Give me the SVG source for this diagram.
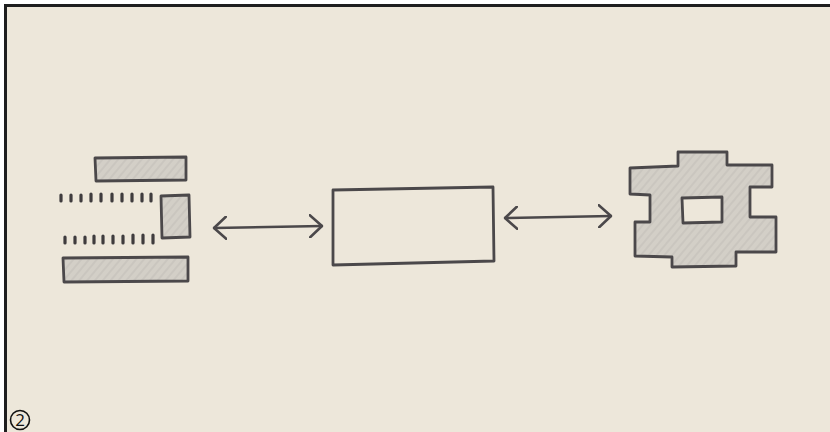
<svg xmlns="http://www.w3.org/2000/svg" width="830" height="432" viewBox="0 0 830 432">
  <defs>
    <pattern id="hatch" patternUnits="userSpaceOnUse" width="6" height="6" patternTransform="rotate(-50)">
      <rect width="6" height="6" fill="#d3cfc7"/>
      <line x1="0" y1="1" x2="6" y2="1" stroke="#c8c4bd" stroke-width="1.5"/>
    </pattern>
    <marker id="head" viewBox="0 0 14 24" refX="13" refY="12" markerWidth="14" markerHeight="24" markerUnits="userSpaceOnUse" orient="auto-start-reverse">
      <path d="M1,1 L13,12 L1,23" fill="none" stroke="#4b484a" stroke-width="2.6" stroke-linecap="round" stroke-linejoin="round"/>
    </marker>
  </defs>
  <style>
    .ink { fill: none; stroke: #4b484a; stroke-width: 2.8; stroke-linejoin: round; stroke-linecap: round; }
    .shade { fill: url(#hatch); stroke: #4b484a; stroke-width: 2.8; stroke-linejoin: round; }
    .tick { stroke: #3f3c3e; stroke-width: 3.2; stroke-linecap: round; }
    .wire { fill: none; stroke: #4b484a; stroke-width: 2.6; stroke-linecap: round; marker-start: url(#head); marker-end: url(#head); }
    .num { font-family: "Open Sans", "Liberation Sans", sans-serif; font-size: 17px; fill: #111; }
  </style>

  <rect x="0" y="0" width="830" height="432" fill="#ffffff"/>
  <rect x="5" y="4" width="825" height="428" fill="#ede7da"/>
  <line x1="4" y1="5.5" x2="830" y2="5.5" stroke="#1e1e1e" stroke-width="3"/>
  <line x1="5.5" y1="4" x2="5.5" y2="432" stroke="#1e1e1e" stroke-width="3"/>

  <g id="node-source">
    <path class="shade" d="M95,158 L186,157 L186,180 L96,181 Z"/>
    <path class="shade" d="M161,196 L189,195 L190,237 L162,238 Z"/>
    <path class="shade" d="M63,258 L188,257 L188,281 L64,282 Z"/>
    <g class="tick">
      <line x1="61" y1="195" x2="61" y2="201"/>
      <line x1="71" y1="195" x2="71" y2="201"/>
      <line x1="81" y1="195" x2="81" y2="201"/>
      <line x1="91" y1="194" x2="91" y2="201"/>
      <line x1="101" y1="194" x2="101" y2="201"/>
      <line x1="112" y1="194" x2="112" y2="201"/>
      <line x1="122" y1="194" x2="122" y2="201"/>
      <line x1="132" y1="194" x2="132" y2="201"/>
      <line x1="142" y1="194" x2="142" y2="201"/>
      <line x1="151" y1="194" x2="151" y2="201"/>
      <line x1="65" y1="237" x2="65" y2="243"/>
      <line x1="75" y1="237" x2="75" y2="243"/>
      <line x1="85" y1="237" x2="85" y2="243"/>
      <line x1="94" y1="236" x2="94" y2="243"/>
      <line x1="103" y1="236" x2="103" y2="243"/>
      <line x1="113" y1="236" x2="113" y2="243"/>
      <line x1="123" y1="236" x2="123" y2="243"/>
      <line x1="133" y1="235" x2="133" y2="243"/>
      <line x1="143" y1="235" x2="143" y2="243"/>
      <line x1="153" y1="235" x2="153" y2="243"/>
    </g>
  </g>

  <g id="node-box">
    <path class="ink" d="M333,190 L493,187 L494,261 L333,265 Z"/>
  </g>

  <g id="node-gear">
    <path class="shade" fill-rule="evenodd" d="M678,152 L727,152 L727,165 L772,165 L772,187 L750,187 L750,217 L776,217 L776,252 L736,252 L736,266 L672,267 L672,257 L635,256 L635,222 L650,222 L650,195 L630,194 L630,168 L678,166 Z M682,198 L722,197 L722,222 L683,223 Z"/>
  </g>

  <g id="connectors">
    <line class="wire" x1="214" y1="228" x2="322" y2="226"/>
    <line class="wire" x1="505" y1="218" x2="611" y2="216"/>
  </g>

  <g id="label-2">
    <circle cx="20" cy="420" r="9.5" fill="none" stroke="#111" stroke-width="1.6"/>
    <text class="num" x="20" y="426" text-anchor="middle">2</text>
  </g>
</svg>
